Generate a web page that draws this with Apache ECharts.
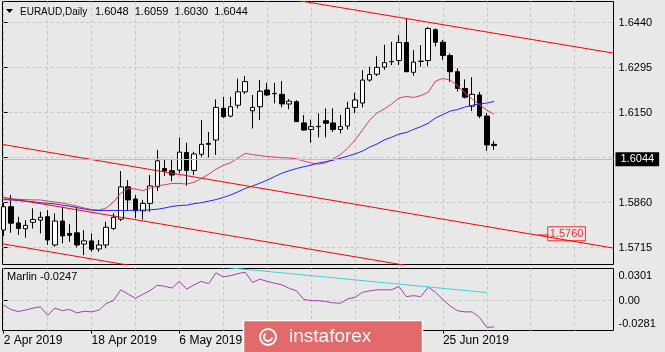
<!DOCTYPE html>
<html lang="en">
<head>
<meta charset="UTF-8">
<title>EURAUD, Daily</title>
<style>
  html, body { margin: 0; padding: 0; background: #e8e8e8; }
  #main { width: 665px; height: 352px; }
</style>
</head>
<body>
<div id="main"></div>
<script src="https://cdn.jsdelivr.net/npm/echarts@6/dist/echarts.min.js"></script>
<script>
// trading days shown on the chart
var dates = [
  '2 Apr 2019', '3 Apr 2019', '4 Apr 2019', '5 Apr 2019', '8 Apr 2019', '9 Apr 2019', '10 Apr 2019', '11 Apr 2019', '12 Apr 2019', '15 Apr 2019',
  '16 Apr 2019', '17 Apr 2019', '18 Apr 2019', '19 Apr 2019', '22 Apr 2019', '23 Apr 2019', '24 Apr 2019', '25 Apr 2019', '26 Apr 2019', '29 Apr 2019',
  '30 Apr 2019', '1 May 2019', '2 May 2019', '3 May 2019', '6 May 2019', '7 May 2019', '8 May 2019', '9 May 2019', '10 May 2019', '13 May 2019',
  '14 May 2019', '15 May 2019', '16 May 2019', '17 May 2019', '20 May 2019', '21 May 2019', '22 May 2019', '23 May 2019', '24 May 2019', '27 May 2019',
  '28 May 2019', '29 May 2019', '30 May 2019', '31 May 2019', '3 Jun 2019', '4 Jun 2019', '5 Jun 2019', '6 Jun 2019', '7 Jun 2019', '10 Jun 2019',
  '11 Jun 2019', '12 Jun 2019', '13 Jun 2019', '14 Jun 2019', '17 Jun 2019', '18 Jun 2019', '19 Jun 2019', '20 Jun 2019', '21 Jun 2019', '24 Jun 2019',
  '25 Jun 2019', '26 Jun 2019', '27 Jun 2019', '28 Jun 2019', '1 Jul 2019', '2 Jul 2019', '3 Jul 2019', '4 Jul 2019'
];

var open = [
  1.5772, 1.5847, 1.5795, 1.5776, 1.5797, 1.5804, 1.5815, 1.5724, 1.5801, 1.5761,
  1.5763, 1.5727, 1.5737, 1.5711, 1.5724, 1.5777, 1.5807, 1.5911, 1.5872, 1.5834,
  1.5858, 1.5911, 1.5970, 1.5963, 1.5965, 1.6022, 1.5964, 1.6016, 1.6051, 1.6062,
  1.6164, 1.6139, 1.6174, 1.6217, 1.6156, 1.6169, 1.6223, 1.6212, 1.6209, 1.6178,
  1.6185, 1.6117, 1.6096, 1.6105, 1.6124, 1.6117, 1.6096, 1.6107, 1.6167, 1.6181,
  1.6255, 1.6274, 1.6297, 1.6314, 1.6318, 1.6376, 1.6280, 1.6315, 1.6318, 1.6417,
  1.6377, 1.6334, 1.6282, 1.6228, 1.6171, 1.6207, 1.6139, 1.6048
];
var high = [
  1.5859, 1.5885, 1.5815, 1.5804, 1.5842, 1.5831, 1.5836, 1.5826, 1.5847, 1.5791,
  1.5847, 1.5772, 1.5761, 1.5740, 1.5799, 1.5826, 1.5962, 1.5933, 1.5885, 1.5869,
  1.5949, 1.6030, 1.5997, 1.6000, 1.6070, 1.6053, 1.6024, 1.6126, 1.6088, 1.6193,
  1.6201, 1.6201, 1.6260, 1.6268, 1.6207, 1.6255, 1.6246, 1.6246, 1.6252, 1.6194,
  1.6190, 1.6142, 1.6128, 1.6148, 1.6164, 1.6164, 1.6143, 1.6185, 1.6214, 1.6287,
  1.6298, 1.6332, 1.6369, 1.6378, 1.6400, 1.6454, 1.6352, 1.6368, 1.6426, 1.6421,
  1.6384, 1.6341, 1.6293, 1.6257, 1.6264, 1.6217, 1.6149, 1.6059
];
var low = [
  1.5753, 1.5763, 1.5756, 1.5747, 1.5777, 1.5761, 1.5724, 1.5718, 1.5729, 1.5734,
  1.5716, 1.5691, 1.5702, 1.5702, 1.5713, 1.5772, 1.5801, 1.5836, 1.5810, 1.5806,
  1.5831, 1.5898, 1.5946, 1.5929, 1.5955, 1.5914, 1.5949, 1.6008, 1.6006, 1.6014,
  1.6132, 1.6135, 1.6164, 1.6210, 1.6099, 1.6126, 1.6203, 1.6180, 1.6167, 1.6161,
  1.6120, 1.6092, 1.6053, 1.6070, 1.6070, 1.6088, 1.6083, 1.6096, 1.6148, 1.6167,
  1.6250, 1.6268, 1.6288, 1.6303, 1.6303, 1.6280, 1.6269, 1.6298, 1.6299, 1.6363,
  1.6319, 1.6249, 1.6218, 1.6196, 1.6155, 1.6132, 1.6027, 1.6030
];
var close = [
  1.5847, 1.5794, 1.5777, 1.5787, 1.5806, 1.5813, 1.5740, 1.5801, 1.5753, 1.5755,
  1.5724, 1.5737, 1.5710, 1.5724, 1.5781, 1.5813, 1.5911, 1.5869, 1.5834, 1.5858,
  1.5914, 1.5995, 1.5962, 1.5949, 1.6023, 1.5964, 1.6017, 1.6048, 1.6048, 1.6167,
  1.6137, 1.6169, 1.6217, 1.6250, 1.6167, 1.6219, 1.6207, 1.6211, 1.6178, 1.6187,
  1.6121, 1.6094, 1.6105, 1.6106, 1.6116, 1.6096, 1.6105, 1.6164, 1.6191, 1.6255,
  1.6273, 1.6296, 1.6311, 1.6315, 1.6376, 1.6282, 1.6313, 1.6316, 1.6421, 1.6377,
  1.6334, 1.6282, 1.6228, 1.6200, 1.6209, 1.6139, 1.6046, 1.6044
];

// fast (red) and slow (blue) moving averages
var maRed = [
  1.5872, 1.5871, 1.5871, 1.5870, 1.5869, 1.5869, 1.5865, 1.5862, 1.5859, 1.5854,
  1.5849, 1.5843, 1.5838, 1.5836, 1.5843, 1.5862, 1.5891, 1.5907, 1.5904, 1.5899,
  1.5907, 1.5914, 1.5918, 1.5922, 1.5922, 1.5920, 1.5926, 1.5938, 1.5952, 1.5968,
  1.5980, 1.5989, 1.6004, 1.6019, 1.6015, 1.6012, 1.6009, 1.6007, 1.6005, 1.6004,
  1.6001, 1.5994, 1.5988, 1.5984, 1.5988, 1.6001, 1.6015, 1.6036, 1.6062, 1.6094,
  1.6126, 1.6149, 1.6162, 1.6178, 1.6197, 1.6202, 1.6199, 1.6205, 1.6216, 1.6252,
  1.6260, 1.6255, 1.6237, 1.6213, 1.6194, 1.6176, 1.6158, 1.6145
];
var maBlue = [
  1.5870, 1.5869, 1.5867, 1.5865, 1.5863, 1.5860, 1.5858, 1.5856, 1.5852, 1.5849,
  1.5844, 1.5840, 1.5836, 1.5835, 1.5835, 1.5835, 1.5835, 1.5835, 1.5836, 1.5836,
  1.5837, 1.5839, 1.5843, 1.5848, 1.5851, 1.5852, 1.5857, 1.5860, 1.5865, 1.5870,
  1.5877, 1.5885, 1.5895, 1.5906, 1.5914, 1.5923, 1.5933, 1.5944, 1.5955, 1.5963,
  1.5970, 1.5976, 1.5981, 1.5988, 1.5992, 1.5997, 1.6003, 1.6010, 1.6017, 1.6026,
  1.6039, 1.6049, 1.6062, 1.6071, 1.6081, 1.6086, 1.6096, 1.6105, 1.6116, 1.6133,
  1.6144, 1.6155, 1.6160, 1.6168, 1.6174, 1.6178, 1.6181, 1.6186
];

// Marlin oscillator (lower window)
var marlin = [
  -0.0042, -0.0085, -0.0103, -0.0088, -0.0071, -0.0059, -0.0138, -0.0071, -0.0095, -0.0083,
  -0.0116, -0.0100, -0.0106, -0.0090, -0.0028, 0.0000, 0.0101, 0.0060, 0.0022, 0.0058,
  0.0094, 0.0144, 0.0134, 0.0117, 0.0180, 0.0107, 0.0148, 0.0180, 0.0158, 0.0260,
  0.0222, 0.0234, 0.0253, 0.0266, 0.0170, 0.0201, 0.0180, 0.0163, 0.0148, 0.0115,
  0.0091, 0.0010, -0.0001, -0.0001, -0.0009, -0.0021, -0.0025, 0.0015, 0.0031, 0.0077,
  0.0091, 0.0101, 0.0101, 0.0101, 0.0132, 0.0037, 0.0046, 0.0037, 0.0126, 0.0077,
  0.0010, -0.0052, -0.0095, -0.0106, -0.0106, -0.0157, -0.0252, -0.0247
];

// trend lines as [bar index, value] end points
var channelTop = [[40, 1.6512], [84, 1.6339]];
var channelMid = [[-1, 1.6051], [84, 1.5711]];
var channelLow = [[-1, 1.5881], [60, 1.5638]];
var channelLow2 = [[-1, 1.5731], [30, 1.5607]];
var marlinTrend = [[30, 0.0313], [66, 0.0075]];
var tagPrice = 1.5760;
var tagBar = 76.9;
var tagPointer = [[73.0, 1.5756], [74.4, 1.5756]];

var priceTicks = [1.5715, 1.5860, 1.6005, 1.6150, 1.6295, 1.6440];
var marlinTicks = [0.0301, 0, -0.0281];
var labelBars = [0, 12, 24, 36, 48, 60];
var gridBars = [0, 6, 12, 18, 24, 30, 36, 42, 48, 54, 60, 66, 72, 78];

var FONT = 'Liberation Sans';
var xMin = -0.164, xMax = 83.31;
var last = close.length - 1;

function pairs(arr) {
  return arr.map(function (v, i) { return [i, v]; });
}
function plainLine(data, color, xi, yi, z) {
  return {
    type: 'line', xAxisIndex: xi, yAxisIndex: yi, data: data,
    symbol: 'none', silent: true, z: z,
    lineStyle: { color: color, width: 1 }
  };
}

var myChart = echarts.init(document.getElementById('main'));

var dash = { color: '#c4c4c4', type: [3, 3], width: 1 };
var candles = open.map(function (o, i) { return [i, o, close[i], low[i], high[i]]; });

var option = {
  animation: false,
  backgroundColor: '#e8e8e8',
  textStyle: { fontFamily: FONT },
  grid: [
    { left: 2.5, top: 1.5, width: 611, height: 263, show: true, borderColor: '#000', borderWidth: 1, backgroundColor: 'transparent' },
    { left: 2.5, top: 268.5, width: 611, height: 62, show: true, borderColor: '#000', borderWidth: 1, backgroundColor: 'transparent' }
  ],
  xAxis: [
    {
      type: 'value', gridIndex: 0, min: xMin, max: xMax,
      axisLine: { show: false }, axisLabel: { show: false },
      axisTick: { show: false, customValues: gridBars },
      splitLine: { show: true, lineStyle: dash }
    },
    {
      type: 'value', gridIndex: 1, min: xMin, max: xMax,
      axisLine: { show: false }, axisLabel: { show: false },
      axisTick: { show: false, customValues: gridBars },
      splitLine: { show: true, lineStyle: dash }
    },
    {
      type: 'value', gridIndex: 1, min: xMin, max: xMax, position: 'bottom',
      axisLine: { show: false }, splitLine: { show: false },
      axisTick: { show: true, customValues: labelBars, length: 3, lineStyle: { color: '#000' } },
      axisLabel: {
        customValues: labelBars, align: 'left', color: '#000', fontSize: 12, margin: 4,
        formatter: function (v) { return dates[v]; }
      }
    }
  ],
  yAxis: [
    {
      type: 'value', gridIndex: 0, position: 'right', min: 1.5661, max: 1.6508,
      axisLine: { show: false },
      axisTick: { show: true, length: 4, customValues: priceTicks, lineStyle: { color: '#000' } },
      axisLabel: {
        customValues: priceTicks, color: '#000', fontSize: 11, margin: 5,
        formatter: function (v) { return v.toFixed(4); }
      },
      splitLine: { show: true, lineStyle: dash }
    },
    {
      type: 'value', gridIndex: 1, position: 'right', min: -0.0281, max: 0.0301,
      axisLine: { show: false },
      axisTick: { show: true, length: 4, customValues: [0], lineStyle: { color: '#000' } },
      axisLabel: {
        customValues: marlinTicks, color: '#000', fontSize: 11, margin: 5, lineHeight: 14,
        formatter: function (v) {
          if (v > 0) return '\n' + v.toFixed(4);
          if (v < 0) return v.toFixed(4) + '\n';
          return '0.00';
        }
      },
      splitLine: { show: true, lineStyle: dash }
    }
  ],
  series: [
    {
      type: 'candlestick', xAxisIndex: 0, yAxisIndex: 0, data: candles,
      barWidth: 5, silent: true, z: 2,
      itemStyle: { color: '#ffffff', color0: '#000000', borderColor: '#000000', borderColor0: '#000000', borderWidth: 1 },
      markLine: {
        silent: true, symbol: 'none', animation: false,
        lineStyle: { color: '#bdbdbd', type: 'solid', width: 1 },
        label: {
          position: 'end', distance: 2, color: '#fff', backgroundColor: '#000',
          padding: [2, 5, 1, 5], fontSize: 11, fontFamily: FONT,
          formatter: function () { return close[last].toFixed(4); }
        },
        data: [{ yAxis: close[last] }]
      }
    },
    plainLine(pairs(maRed), '#e33d5a', 0, 0, 3),
    plainLine(pairs(maBlue), '#2424ff', 0, 0, 3),
    plainLine(channelTop, '#ff0000', 0, 0, 4),
    plainLine(channelMid, '#ff0000', 0, 0, 4),
    plainLine(channelLow, '#ff0000', 0, 0, 4),
    plainLine(channelLow2, '#ff0000', 0, 0, 4),
    plainLine(tagPointer, '#ff0000', 0, 0, 4),
    {
      type: 'scatter', xAxisIndex: 0, yAxisIndex: 0, data: [[tagBar, tagPrice]],
      symbol: 'rect', symbolSize: 1, silent: true, z: 5,
      itemStyle: { color: 'rgba(0,0,0,0)' },
      label: {
        show: true, position: 'inside', color: '#ff0000', fontSize: 11,
        borderColor: '#ff0000', borderWidth: 1, padding: [2, 2, 1, 2],
        formatter: function () { return tagPrice.toFixed(4); }
      }
    },
    plainLine(pairs(marlin), '#a43fb0', 1, 1, 3),
    plainLine(marlinTrend, '#3cd2dc', 1, 1, 3)
  ],
  graphic: [
    { type: 'polygon', shape: { points: [[6, 9], [13, 9], [9.5, 13]] }, style: { fill: '#000' } },
    { type: 'text', x: 20, y: 12, style: { text: 'EURAUD,Daily', fill: '#000', font: '10px "Liberation Sans"', verticalAlign: 'middle' } },
    {
      type: 'text', x: 95, y: 12,
      style: {
        text: [open[last], high[last], low[last], close[last]].map(function (v) { return v.toFixed(4); }).join('  '),
        fill: '#000', font: '11px "Liberation Sans"', verticalAlign: 'middle'
      }
    },
    { type: 'text', x: 7, y: 277, style: { text: 'Marlin ' + marlin[last].toFixed(4), fill: '#000', font: '11px "Liberation Sans"', verticalAlign: 'middle' } },
    // watermark box sits over the hidden date labels
    { type: 'rect', z: 100, zlevel: 1, shape: { x: 243.5, y: 320.5, width: 179, height: 36 }, style: { fill: '#e36a6a', stroke: '#ffffff', lineWidth: 1.5 } },
    { type: 'circle', z: 101, zlevel: 1, shape: { cx: 268, cy: 337, r: 8 }, style: { fill: 'none', stroke: '#ffffff', lineWidth: 2 } },
    { type: 'arc', z: 101, zlevel: 1, shape: { cx: 268, cy: 337, r: 4, startAngle: 0, endAngle: Math.PI * 1.3 }, style: { fill: 'none', stroke: '#ffffff', lineWidth: 2 } },
    { type: 'text', z: 101, zlevel: 1, x: 289, y: 337, style: { text: 'instaforex', fill: '#ffffff', font: '19px "Liberation Sans"', verticalAlign: 'middle' } }
  ]
};

myChart.setOption(option);
</script>
</body>
</html>
